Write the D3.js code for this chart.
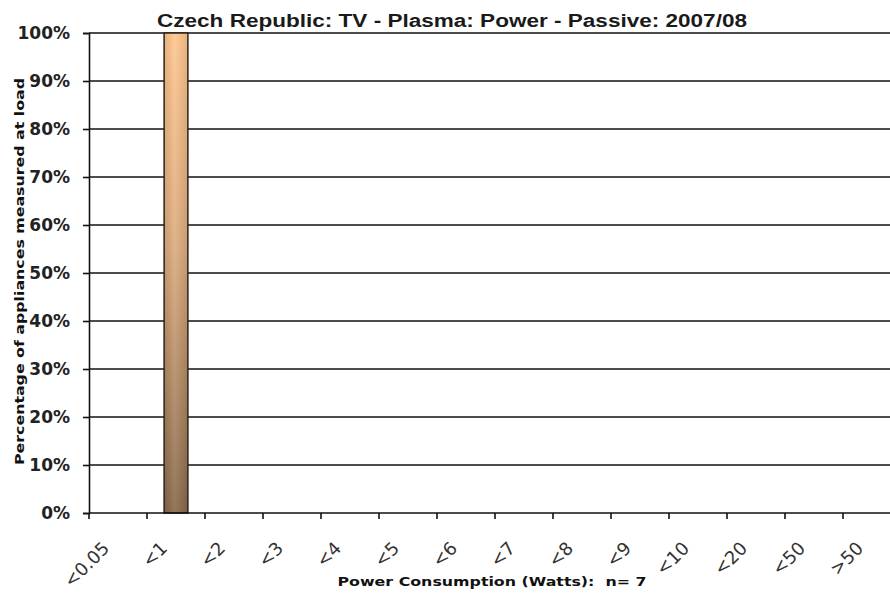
<!DOCTYPE html>
<html>
<head>
<meta charset="utf-8">
<script src="https://cdn.jsdelivr.net/npm/d3@7"></script>
<style>
  html, body { margin: 0; padding: 0; background: #fff; }
  svg { display: block; }
</style>
</head>
<body>
<svg id="chart" width="890" height="595"></svg>
<script>
// Power-consumption bins (Watts) and share of appliances in each bin (%)
const categories = ["<0.05", "<1", "<2", "<3", "<4", "<5", "<6", "<7", "<8", "<9", "<10", "<20", "<50", ">50"];
const shares = [0, 100, 0, 0, 0, 0, 0, 0, 0, 0, 0, 0, 0, 0];
const yTicks = [0, 10, 20, 30, 40, 50, 60, 70, 80, 90, 100];

const titleText = "Czech Republic: TV - Plasma: Power - Passive: 2007/08";
const xTitleText = "Power Consumption (Watts):  n= 7";
const yTitleText = "Percentage of appliances measured at load";

const W = 890, H = 595;
const plot = { left: 89, top: 33, bottom: 513, right: 901 };

const svg = d3.select("#chart");

const x = d3.scaleBand().domain(categories).range([plot.left, plot.right]).padding(0);
const y = d3.scaleLinear().domain([0, 100]).range([plot.bottom, plot.top]);

// bar fill: light peach at the top fading to brown at the base
const defs = svg.append("defs");
const grad = defs.append("linearGradient")
  .attr("id", "barFill").attr("x1", 0).attr("y1", 0).attr("x2", 0).attr("y2", 1);
grad.append("stop").attr("offset", "0%").attr("stop-color", "#ffc58d");
grad.append("stop").attr("offset", "45%").attr("stop-color", "#dcaa7c");
grad.append("stop").attr("offset", "100%").attr("stop-color", "#876849");

const hGrad = defs.append("linearGradient")
  .attr("id", "barSheen").attr("x1", 0).attr("y1", 0).attr("x2", 1).attr("y2", 0);
hGrad.append("stop").attr("offset", "0%").attr("stop-color", "#000").attr("stop-opacity", 0.10);
hGrad.append("stop").attr("offset", "45%").attr("stop-color", "#fff").attr("stop-opacity", 0.10);
hGrad.append("stop").attr("offset", "100%").attr("stop-color", "#000").attr("stop-opacity", 0.10);

const clip = defs.append("clipPath").attr("id", "pageClip");
clip.append("rect").attr("x", 0).attr("y", 0).attr("width", W).attr("height", H);

const g = svg.append("g").attr("clip-path", "url(#pageClip)");

// horizontal gridlines
g.append("g").selectAll("line").data(yTicks.filter(d => d > 0)).join("line")
  .attr("x1", plot.left).attr("x2", plot.right)
  .attr("y1", d => y(d)).attr("y2", d => y(d))
  .attr("stroke", "#111").attr("stroke-width", 1.6);

// bars
const barW = x.bandwidth() * 0.41;
const bars = g.append("g").selectAll("g").data(categories.map((c, i) => ({ c, v: shares[i] })).filter(d => d.v > 0)).join("g");
bars.append("rect")
  .attr("x", d => x(d.c) + (x.bandwidth() - barW) / 2)
  .attr("y", d => y(d.v))
  .attr("width", barW)
  .attr("height", d => y(0) - y(d.v))
  .attr("fill", "url(#barFill)");
bars.append("rect")
  .attr("x", d => x(d.c) + (x.bandwidth() - barW) / 2)
  .attr("y", d => y(d.v))
  .attr("width", barW)
  .attr("height", d => y(0) - y(d.v))
  .attr("fill", "url(#barSheen)")
  .attr("stroke", "#2e2218").attr("stroke-width", 1.5);

// y axis
const yAxis = g.append("g")
  .attr("transform", `translate(${plot.left},0)`)
  .call(d3.axisLeft(y).tickValues(yTicks).tickFormat(d => d + "%").tickSize(6).tickPadding(13));
yAxis.select(".domain").attr("stroke", "#111").attr("stroke-width", 1.6);
yAxis.selectAll(".tick line").attr("stroke", "#111").attr("stroke-width", 1.6);
yAxis.selectAll(".tick text")
  .attr("fill", "#222")
  .style("font-family", "'DejaVu Sans', Verdana, sans-serif")
  .style("font-weight", "bold")
  .style("font-size", "17px");

// x axis baseline and ticks at band edges
const xAxis = g.append("g");
xAxis.append("line")
  .attr("x1", plot.left).attr("x2", plot.right)
  .attr("y1", plot.bottom).attr("y2", plot.bottom)
  .attr("stroke", "#111").attr("stroke-width", 1.6);
xAxis.selectAll("line.tick").data(categories).join("line")
  .attr("class", "tick")
  .attr("x1", d => x(d)).attr("x2", d => x(d))
  .attr("y1", plot.bottom).attr("y2", plot.bottom + 6)
  .attr("stroke", "#111").attr("stroke-width", 1.6);

// slanted category labels
xAxis.selectAll("text").data(categories).join("text")
  .attr("transform", d => `translate(${x(d) + x.bandwidth() / 2 - 12},${plot.bottom + 32}) rotate(-45)`)
  .attr("text-anchor", "end")
  .attr("dy", "0.35em")
  .attr("fill", "#333")
  .style("font-family", "'DejaVu Sans', Verdana, sans-serif")
  .style("font-size", "18px")
  .text(d => d);

// titles
svg.append("text")
  .attr("x", 452).attr("y", 27)
  .attr("text-anchor", "middle")
  .attr("fill", "#1a1a1a")
  .attr("textLength", 590).attr("lengthAdjust", "spacingAndGlyphs")
  .style("font-family", "'Liberation Sans', Arial, sans-serif")
  .style("font-weight", "bold")
  .style("font-size", "18px")
  .text(titleText);

svg.append("text")
  .attr("x", 492).attr("y", 586)
  .attr("text-anchor", "middle")
  .attr("fill", "#111")
  .attr("textLength", 309).attr("lengthAdjust", "spacingAndGlyphs")
  .style("font-family", "'DejaVu Sans', Verdana, sans-serif")
  .style("font-weight", "bold")
  .style("font-size", "12px")
  .style("white-space", "pre")
  .text(xTitleText);

svg.append("text")
  .attr("transform", `translate(24,${(465 + 78) / 2}) rotate(-90)`)
  .attr("text-anchor", "middle")
  .attr("fill", "#111")
  .attr("textLength", 387).attr("lengthAdjust", "spacingAndGlyphs")
  .style("font-family", "'DejaVu Sans', Verdana, sans-serif")
  .style("font-weight", "bold")
  .style("font-size", "12px")
  .text(yTitleText);
</script>
</body>
</html>
